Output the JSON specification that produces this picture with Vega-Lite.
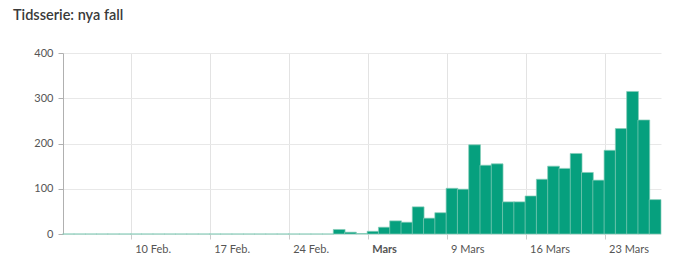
{
  "$schema": "https://vega.github.io/schema/vega-lite/v6.json",
  "width": 598,
  "height": 181,
  "autosize": {"type": "none"},
  "padding": {"left": 63, "top": 53, "right": 15, "bottom": 29},
  "background": "#ffffff",
  "title": {
    "text": "Tidsserie: nya fall",
    "anchor": "start",
    "frame": "group",
    "dx": -50,
    "offset": 24,
    "font": "Lato",
    "fontSize": 14.5,
    "fontWeight": 600,
    "color": "#3a3a3a"
  },
  "config": {
    "view": {"stroke": null},
    "font": "Lato"
  },
  "data": {
    "values": [
      {"date": "2020-02-04", "cases": 0},
      {"date": "2020-02-05", "cases": 0},
      {"date": "2020-02-06", "cases": 0},
      {"date": "2020-02-07", "cases": 0},
      {"date": "2020-02-08", "cases": 0},
      {"date": "2020-02-09", "cases": 0},
      {"date": "2020-02-10", "cases": 0},
      {"date": "2020-02-11", "cases": 0},
      {"date": "2020-02-12", "cases": 0},
      {"date": "2020-02-13", "cases": 0},
      {"date": "2020-02-14", "cases": 0},
      {"date": "2020-02-15", "cases": 0},
      {"date": "2020-02-16", "cases": 0},
      {"date": "2020-02-17", "cases": 0},
      {"date": "2020-02-18", "cases": 0},
      {"date": "2020-02-19", "cases": 0},
      {"date": "2020-02-20", "cases": 0},
      {"date": "2020-02-21", "cases": 0},
      {"date": "2020-02-22", "cases": 0},
      {"date": "2020-02-23", "cases": 0},
      {"date": "2020-02-24", "cases": 0},
      {"date": "2020-02-25", "cases": 0},
      {"date": "2020-02-26", "cases": 0},
      {"date": "2020-02-27", "cases": 0},
      {"date": "2020-02-28", "cases": 10},
      {"date": "2020-02-29", "cases": 4},
      {"date": "2020-03-01", "cases": 1},
      {"date": "2020-03-02", "cases": 6},
      {"date": "2020-03-03", "cases": 15},
      {"date": "2020-03-04", "cases": 29},
      {"date": "2020-03-05", "cases": 26},
      {"date": "2020-03-06", "cases": 60},
      {"date": "2020-03-07", "cases": 35},
      {"date": "2020-03-08", "cases": 47},
      {"date": "2020-03-09", "cases": 101},
      {"date": "2020-03-10", "cases": 99},
      {"date": "2020-03-11", "cases": 197},
      {"date": "2020-03-12", "cases": 152},
      {"date": "2020-03-13", "cases": 155},
      {"date": "2020-03-14", "cases": 71},
      {"date": "2020-03-15", "cases": 71},
      {"date": "2020-03-16", "cases": 84},
      {"date": "2020-03-17", "cases": 121},
      {"date": "2020-03-18", "cases": 150},
      {"date": "2020-03-19", "cases": 145},
      {"date": "2020-03-20", "cases": 178},
      {"date": "2020-03-21", "cases": 136},
      {"date": "2020-03-22", "cases": 119},
      {"date": "2020-03-23", "cases": 185},
      {"date": "2020-03-24", "cases": 233},
      {"date": "2020-03-25", "cases": 315},
      {"date": "2020-03-26", "cases": 252},
      {"date": "2020-03-27", "cases": 76}
    ]
  },
  "mark": {
    "type": "bar",
    "color": "#06a07e",
    "stroke": "#86cdb9",
    "strokeWidth": 0.7,
    "x2Offset": -1.5
  },
  "encoding": {
    "x": {
      "field": "date",
      "type": "temporal",
      "timeUnit": "yearmonthdate",
      "scale": {
        "domain": [
          {"year": 2020, "month": 2, "date": 4},
          {"year": 2020, "month": 3, "date": 28}
        ]
      },
      "axis": {
        "title": null,
        "values": [
          {"year": 2020, "month": 2, "date": 10},
          {"year": 2020, "month": 2, "date": 17},
          {"year": 2020, "month": 2, "date": 24},
          {"year": 2020, "month": 3, "date": 2},
          {"year": 2020, "month": 3, "date": 9},
          {"year": 2020, "month": 3, "date": 16},
          {"year": 2020, "month": 3, "date": 23}
        ],
        "labelExpr": "(month(datum.value) == 2 && date(datum.value) == 2) ? 'Mars' : (date(datum.value) + (month(datum.value) == 1 ? ' Feb.' : ' Mars'))",
        "labelFontWeight": {"condition": {"test": "month(datum.value) == 2 && date(datum.value) == 2", "value": "bold"}, "value": "normal"},
        "labelAlign": "left",
        "labelOffset": 4,
        "labelPadding": 4,
        "labelFont": "Lato",
        "labelFontSize": 11,
        "labelColor": "#555555",
        "domain": false,
        "grid": true,
        "gridColor": "#e3e3e3",
        "gridWidth": 1,
        "ticks": true,
        "tickSize": 5,
        "tickColor": "#cccccc"
      }
    },
    "y": {
      "field": "cases",
      "type": "quantitative",
      "scale": {"domain": [0, 400], "nice": false},
      "axis": {
        "title": null,
        "values": [0, 100, 200, 300, 400],
        "labelFont": "Lato",
        "labelFontSize": 11,
        "labelColor": "#555555",
        "labelPadding": 5,
        "domain": true,
        "domainColor": "#b0b0b0",
        "grid": true,
        "gridColor": "#e8e8e8",
        "ticks": true,
        "tickSize": 5,
        "tickColor": "#b0b0b0"
      }
    }
  }
}
